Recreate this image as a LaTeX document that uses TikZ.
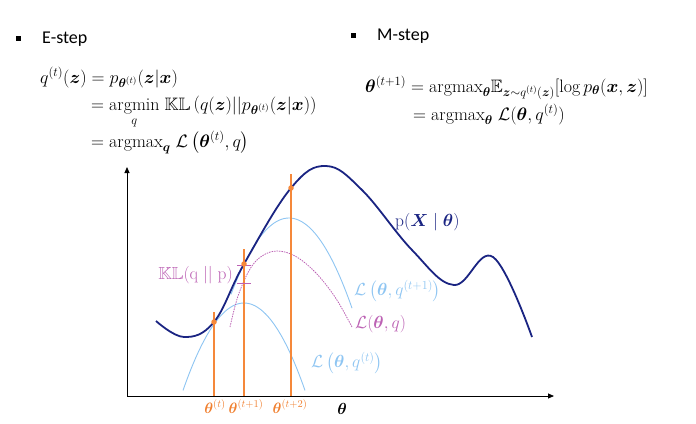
\RequirePackage{fix-cm}
\documentclass[tikz,border=0pt]{standalone}
\usepackage{amsmath,amssymb,bm}
\DeclareFontFamily{U}{msb}{}
\DeclareFontShape{U}{msb}{m}{n}{<-6> msbm5 <6-8> msbm7 <8-> msbm10}{}
\usepackage{fontspec}
\newfontfamily\calfont{Carlito}
\usetikzlibrary{arrows.meta}
\definecolor{pblue}{HTML}{1A2482}
\definecolor{lblue}{HTML}{8EC5F2}
\definecolor{qmag}{HTML}{BC62B4}
\definecolor{orng}{HTML}{F5883A}
\definecolor{olab}{HTML}{F08030}
\begin{document}
\begin{tikzpicture}[x=1pt,y=-1pt,
  pcurve/.style={draw=pblue, line width=1.8pt},
  lcurve/.style={draw=lblue, line width=0.9pt},
  qcurve/.style={draw=qmag, line width=0.8pt, dash pattern=on 1.5pt off 1pt},
  vline/.style={draw=orng, line width=1.4pt},
  odot/.style={circle, fill=orng, inner sep=0pt, minimum size=5.5pt},
  lbl/.style={inner sep=0pt, font=\fontsize{17.5}{20}\selectfont},
  olbl/.style={inner sep=0pt, anchor=base, text=olab, font=\fontsize{15}{17}\selectfont},
  bulletbox/.style={fill=black, inner sep=0pt, minimum size=5pt},
  head/.style={inner sep=0pt, anchor=base west, font=\calfont\fontsize{18}{21}\selectfont},
  eqline/.style={inner sep=0pt, anchor=base west, font=\fontsize{18}{21}\selectfont},
  axis/.style={draw=black, line width=0.8pt, -{Triangle[length=6pt,width=5pt]}}]

\path[use as bounding box] (0,0) rectangle (696,423);

% headings
\node[bulletbox] (b1) at (18,38) {};
\node[head] (estep) at (42,43) {E-step};
\node[bulletbox] (b2) at (353,35) {};
\node[head] (mstep) at (377,40) {M-step};

% E-step equations
\node[eqline] (e1) at (40,83) {$q^{(t)}(\bm{z}) = p_{\bm{\theta}^{(t)}}(\bm{z}|\bm{x})$};
\node[eqline] (e2) at (91,110) {$= \underset{q}{\mathrm{argmin}}\;\mathbb{KL}\left(q(\bm{z})||p_{\bm{\theta}^{(t)}}(\bm{z}|\bm{x})\right)$};
\node[eqline] (e3) at (91,147) {$= \mathrm{argmax}_{\bm{q}}\;\mathcal{L}\left(\bm{\theta}^{(t)},q\right)$};

% M-step equations
\node[eqline] (m1) at (365,92) {$\bm{\theta}^{(t+1)} = \mathrm{argmax}_{\bm{\theta}}\mathbb{E}_{\bm{z}\sim q^{(t)}(\bm{z})}[\log p_{\bm{\theta}}(\bm{x},\bm{z})]$};
\node[eqline] (m2) at (413,120) {$= \mathrm{argmax}_{\bm{\theta}}\;\mathcal{L}(\bm{\theta},q^{(t)})$};

% axes
\coordinate (O) at (127,396);
\coordinate (ytop) at (127,167);
\coordinate (xend) at (554,396);
\draw[axis] (O) -- (ytop);
\draw[axis] (O) -- (xend);

% lower bounds
\draw[lcurve] plot[domain=183:305, samples=60] (\x, {303+0.0235*(\x-244)^2});
\draw[lcurve] plot[domain=231:352, samples=60] (\x, {218+0.0227*(\x-289)^2});
\draw[qcurve] plot[smooth, tension=0.6] coordinates {(230,327) (238,296) (250,269) (262,256) (277,251) (295,256) (315,272) (335,297) (352,327)};

% likelihood
\draw[pcurve] plot[smooth, tension=0.65] coordinates {(156,321) (184,337) (214,322) (244,264) (291,188) (326,166) (362,190) (412,250) (454,285) (493,257) (532,337)};

% vertical lines
\coordinate (t0top) at (214,312);
\coordinate (t0bot) at (214,396);
\coordinate (t1top) at (244,249);
\coordinate (t1bot) at (244,396);
\coordinate (t2top) at (291,174);
\coordinate (t2bot) at (291,396);
\draw[vline] (t0top) -- (t0bot);
\draw[vline] (t1top) -- (t1bot);
\draw[vline] (t2top) -- (t2bot);

% KL gap ticks
\coordinate (k1a) at (237,265);
\coordinate (k1b) at (251,265);
\coordinate (k2a) at (237,283);
\coordinate (k2b) at (251,283);
\draw[qmag, line width=0.8pt] (k1a) -- (k1b);
\draw[qmag, line width=0.8pt] (k2a) -- (k2b);

\node[odot] (d0) at (214,322) {};
\node[odot] (d1) at (244,264) {};
\node[odot] (d2) at (291,188) {};

% labels
\node[lbl, anchor=west, text=pblue] (lp) at (395,222) {$\mathrm{p}(\bm{X}\mid\bm{\theta})$};
\node[lbl, anchor=west, text=lblue] (l1) at (354,291) {$\mathcal{L}\left(\bm{\theta},q^{(t+1)}\right)$};
\node[lbl, anchor=west, text=qmag] (lq) at (355,324) {$\mathcal{L}(\bm{\theta},q)$};
\node[lbl, anchor=west, text=lblue] (l0) at (311,363) {$\mathcal{L}\left(\bm{\theta},q^{(t)}\right)$};
\node[lbl, anchor=east, text=qmag] (kl) at (233,275) {$\mathbb{KL}(\mathrm{q}\;||\;\mathrm{p})$};

\node[olbl] (th0) at (215,413) {$\bm{\theta}^{(t)}$};
\node[olbl] (th1) at (246,413) {$\bm{\theta}^{(t+1)}$};
\node[olbl] (th2) at (290,413) {$\bm{\theta}^{(t+2)}$};
\node[inner sep=0pt, anchor=base, font=\fontsize{16}{18}\selectfont] (thx) at (342,414) {$\bm{\theta}$};
\end{tikzpicture}
\end{document}
